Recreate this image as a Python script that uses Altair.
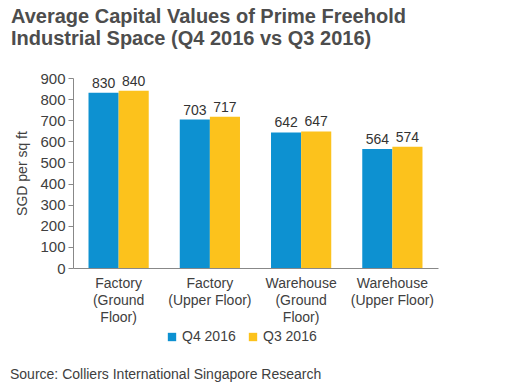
import altair as alt
import pandas as pd

categories = ["Factory|(Ground|Floor)", "Factory|(Upper Floor)", "Warehouse|(Ground|Floor)", "Warehouse|(Upper Floor)"]
series = ["Q4 2016", "Q3 2016"]
q4_values = [830, 703, 642, 564]
q3_values = [840, 717, 647, 574]
colors = ["#0d91d1", "#fcc21c"]
y_ticks = [0, 100, 200, 300, 400, 500, 600, 700, 800, 900]

rows = []
for c, a, b in zip(categories, q4_values, q3_values):
    rows.append({"cat": c, "series": series[0], "value": a})
    rows.append({"cat": c, "series": series[1], "value": b})
df = pd.DataFrame(rows)

W, H = 365, 190
font = "Liberation Sans"
grey = "#404040"

base = alt.Chart(df).encode(
    x=alt.X("cat:N", sort=categories,
            scale=alt.Scale(paddingInner=0.34, paddingOuter=0.17),
            axis=alt.Axis(title=None, labelAngle=0, ticks=False, labelPadding=8,
                          labelExpr="split(datum.label, '|')", labelFont=font,
                          labelFontSize=14, labelColor=grey, labelLineHeight=17,
                          domainColor="#888888", labelBaseline="top", labelOverlap=False)),
    xOffset=alt.XOffset("series:N", sort=series, scale=alt.Scale(paddingInner=0, paddingOuter=0)),
    y=alt.Y("value:Q", scale=alt.Scale(domain=[0, 900], nice=False),
            axis=alt.Axis(title="SGD per sq ft", values=y_ticks, grid=False, labelOverlap=False,
                          tickSize=5, tickColor="#888888", domainColor="#888888",
                          labelFont=font, labelFontSize=15, labelColor=grey,
                          titleFont=font, titleFontSize=14, titleColor=grey,
                          titleFontWeight="normal", titlePadding=10, labelPadding=3)),
)

bars = base.mark_bar().encode(
    color=alt.Color("series:N", sort=series,
                    scale=alt.Scale(domain=series, range=colors),
                    legend=alt.Legend(title=None, orient="none", direction="horizontal",
                                      legendX=92, legendY=252, symbolType="square",
                                      symbolSize=70, symbolStrokeWidth=0,
                                      labelFont=font, labelFontSize=14, labelColor=grey,
                                      columnPadding=10, labelOffset=3)),
)

labels = base.mark_text(dy=-9, font=font, fontSize=14, color="#333333").encode(
    text=alt.Text("value:Q"),
)

source = alt.Chart(pd.DataFrame({"t": ["Source: Colliers International Singapore Research"]})).mark_text(
    align="left", baseline="middle", font=font, fontSize=14, color=grey
).encode(x=alt.value(-63), y=alt.value(H + 107), text="t:N")

chart = alt.layer(bars, labels, source).properties(
    width=W, height=H,
    title=alt.TitleParams(
        text=["Average Capital Values of Prime Freehold", "Industrial Space (Q4 2016 vs Q3 2016)"],
        anchor="start", frame="group", dx=-62, font=font, fontSize=20,
        fontWeight="bold", color="#4d4d4d", lineHeight=22, offset=22),
    autosize=alt.AutoSizeParams(type="none"),
    padding={"left": 65, "top": 70, "right": 77, "bottom": 114},
).configure_view(stroke=None)

chart.save("out.html", embed_options={"renderer": "svg", "actions": False})
